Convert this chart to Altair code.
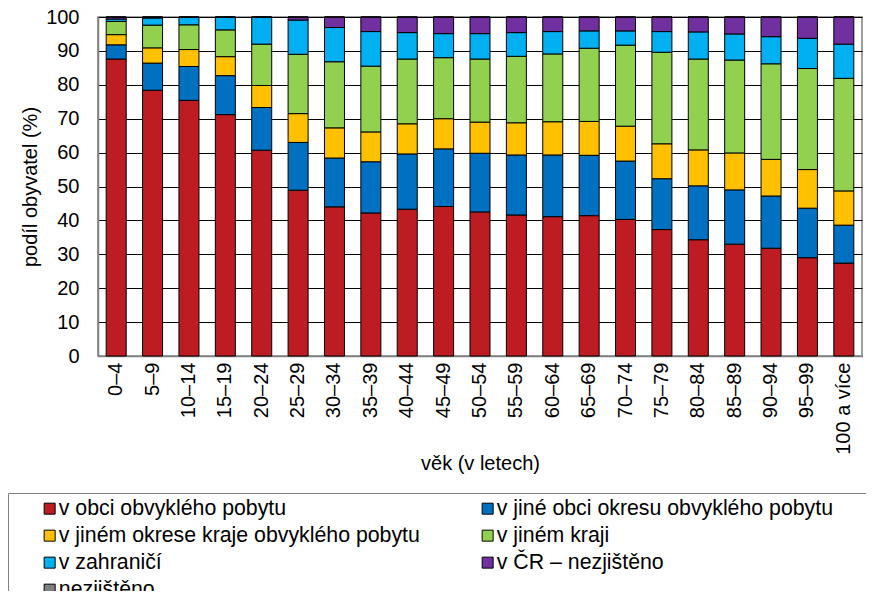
import altair as alt
import pandas as pd

categories = ["0–4", "5–9", "10–14", "15–19", "20–24", "25–29", "30–34", "35–39",
              "40–44", "45–49", "50–54", "55–59", "60–64", "65–69", "70–74", "75–79",
              "80–84", "85–89", "90–94", "95–99", "100 a více"]

series_names = ["v obci obvyklého pobytu",
                "v jiné obci okresu obvyklého pobytu",
                "v jiném okrese kraje obvyklého pobytu",
                "v jiném kraji",
                "v zahraničí",
                "v ČR – nezjištěno",
                "nezjištěno"]

v_obci = [87.6, 78.4, 75.4, 71.2, 60.7, 48.9, 44.0, 42.2, 43.3, 44.1, 42.5, 41.6,
          41.1, 41.4, 40.3, 37.3, 34.3, 33.0, 31.8, 29.0, 27.4]
v_jine_obci = [4.2, 8.0, 10.0, 11.5, 12.6, 14.1, 14.4, 15.1, 16.3, 17.0, 17.3, 17.7,
               18.2, 17.8, 17.2, 15.0, 15.9, 16.0, 15.4, 14.6, 11.2]
v_jinem_okrese = [3.0, 4.5, 5.0, 5.6, 6.5, 8.5, 8.9, 8.8, 8.9, 8.9, 9.2, 9.5,
                  9.8, 10.0, 10.3, 10.3, 10.6, 10.9, 10.8, 11.4, 10.1]
v_jinem_kraji = [3.9, 6.7, 7.3, 7.9, 12.2, 17.5, 19.5, 19.4, 19.1, 18.0, 18.6, 19.6,
                 20.0, 21.6, 23.9, 27.0, 26.8, 27.4, 28.2, 29.8, 33.2]
v_zahranici = [0.7, 2.1, 2.2, 3.7, 7.9, 10.1, 10.1, 10.2, 7.8, 7.1, 7.5, 7.0,
               6.6, 5.1, 4.2, 6.1, 8.0, 7.7, 8.0, 8.9, 10.1]
v_cr_nezjisteno = [0.6, 0.3, 0.1, 0.1, 0.1, 0.9, 3.1, 4.3, 4.6, 4.9, 4.9, 4.6,
                   4.3, 4.1, 4.1, 4.3, 4.4, 5.0, 5.8, 6.3, 8.0]
nezjisteno = [0.0] * 21

colors = ["#BD1C23", "#0070C0", "#FFC000", "#92D050", "#00B0F0", "#7030A0", "#808080"]

y_ticks = [0, 10, 20, 30, 40, 50, 60, 70, 80, 90, 100]

# legend is filled column by column: left column first, then right column
legend_order = [series_names[i] for i in (0, 2, 4, 6, 1, 3, 5)]

all_series = [v_obci, v_jine_obci, v_jinem_okrese, v_jinem_kraji, v_zahranici,
              v_cr_nezjisteno, nezjisteno]

rows = []
for si, (name, vals) in enumerate(zip(series_names, all_series)):
    for ci, cat in enumerate(categories):
        rows.append({"vek": cat, "serie": name, "poradi": si, "hodnota": vals[ci]})
df = pd.DataFrame(rows)

FONT = "Liberation Sans"

chart = alt.Chart(df).mark_bar(stroke="#000000", strokeWidth=1).encode(
    x=alt.X("vek:N", sort=categories,
            scale=alt.Scale(paddingInner=0.45),
            axis=alt.Axis(title="věk (v letech)", labelAngle=-90, labelAlign="right",
                          labelBaseline="middle", labelPadding=6, ticks=False,
                          labelFont=FONT, labelFontSize=20, labelColor="#000",
                          titleFont=FONT, titleFontSize=20, titleFontWeight="normal",
                          titleColor="#000", titleY=107, titleBaseline="middle",
                          domainColor="#808080", domainWidth=1.5)),
    y=alt.Y("hodnota:Q", stack="zero",
            scale=alt.Scale(domain=[0, 100], nice=False),
            axis=alt.Axis(title="podíl obyvatel (%)", values=y_ticks, ticks=False,
                          labelPadding=19, labelFont=FONT, labelFontSize=20,
                          labelColor="#000", titleFont=FONT, titleFontSize=20,
                          titleFontWeight="normal", titleColor="#000",
                          titleX=-68, titleY=169.5, titleAngle=-90,
                          titleAlign="center", titleBaseline="middle",
                          grid=True, gridColor="#000000", gridWidth=1,
                          domainColor="#808080", domainWidth=1.5)),
    color=alt.Color("serie:N",
                    scale=alt.Scale(domain=series_names, range=colors),
                    legend=alt.Legend(title=" ", titleOrient="right", titlePadding=40,
                                      titleFontSize=10,
                                      orient="none", legendX=-90, legendY=476,
                                      columns=2, values=legend_order,
                                      symbolType="square", symbolSize=121,
                                      symbolStrokeColor="#000000", symbolStrokeWidth=1,
                                      symbolOffset=26, labelOffset=alt.ExprRef("-1.5"),
                                      labelFont=FONT, labelFontSize=21.3, labelColor="#000",
                                      labelLimit=600, rowPadding=5, columnPadding=31,
                                      gridAlign="all", padding=5,
                                      strokeColor="#808080", symbolOpacity=1)),
    order=alt.Order("poradi:Q", sort="ascending"),
).properties(
    width=764, height=339,
    padding={"left": 90, "top": 9, "right": 4, "bottom": 235},
    autosize=alt.AutoSizeParams(type="none"),
).configure_view(stroke="#808080", strokeWidth=1.5)

chart.save("out.html", embed_options={"renderer": "svg", "actions": False})
